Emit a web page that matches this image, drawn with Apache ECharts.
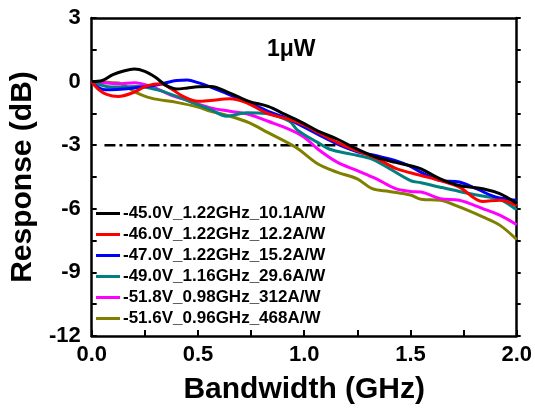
<!DOCTYPE html>
<html>
<head>
<meta charset="utf-8">
<script src="https://cdn.jsdelivr.net/npm/echarts@6/dist/echarts.min.js"></script>
<style>html,body{margin:0;padding:0;background:#fff}#c{width:535px;height:410px}</style>
</head>
<body>
<div id="c"></div>
<script>
const seriesNames = [
  '-45.0V_1.22GHz_10.1A/W',
  '-46.0V_1.22GHz_12.2A/W',
  '-47.0V_1.22GHz_15.2A/W',
  '-49.0V_1.16GHz_29.6A/W',
  '-51.8V_0.98GHz_312A/W',
  '-51.6V_0.96GHz_468A/W'
];
const seriesColors = ['#000000', '#ff0000', '#0000ff', '#008080', '#ff00ff', '#808000'];

// [GHz, dB]
const s45 = [[0,0],[0.05,0.05],[0.1,0.33],[0.15,0.5],[0.2,0.59],[0.25,0.48],[0.3,0.2],[0.35,-0.18],[0.4,-0.35],[0.45,-0.3],[0.5,-0.24],[0.56,-0.23],[0.65,-0.54],[0.74,-0.93],[0.83,-1.17],[0.91,-1.55],[1.0,-1.98],[1.065,-2.33],[1.157,-2.72],[1.25,-3.19],[1.34,-3.57],[1.43,-3.81],[1.5,-3.97],[1.55,-4.12],[1.64,-4.59],[1.73,-4.9],[1.84,-5.05],[1.92,-5.29],[2.0,-5.75]];
const s46 = [[0,0],[0.03,-0.35],[0.07,-0.6],[0.125,-0.7],[0.19,-0.54],[0.26,-0.2],[0.325,-0.1],[0.37,-0.31],[0.43,-0.7],[0.5,-0.93],[0.56,-0.89],[0.65,-0.81],[0.73,-1.0],[0.82,-1.47],[0.93,-1.79],[1.0,-2.05],[1.065,-2.4],[1.157,-2.88],[1.25,-3.27],[1.34,-3.62],[1.43,-4.09],[1.5,-4.3],[1.55,-4.43],[1.64,-4.67],[1.73,-4.98],[1.84,-5.65],[1.92,-5.6],[2.0,-5.85]];
const s47 = [[0,-0.05],[0.065,-0.39],[0.19,-0.31],[0.31,-0.15],[0.4,0.05],[0.45,0.07],[0.5,-0.05],[0.56,-0.26],[0.65,-0.62],[0.74,-1.0],[0.83,-1.4],[0.93,-1.79],[1.0,-2.15],[1.065,-2.49],[1.157,-2.95],[1.25,-3.31],[1.34,-3.5],[1.43,-3.73],[1.5,-4.0],[1.55,-4.28],[1.64,-4.67],[1.73,-4.74],[1.81,-5.05],[1.9,-5.44],[2.0,-5.6]];
const s49 = [[0,0],[0.095,-0.26],[0.22,-0.23],[0.31,-0.39],[0.4,-0.7],[0.465,-0.95],[0.56,-1.32],[0.635,-1.63],[0.73,-1.47],[0.82,-1.5],[0.93,-1.87],[0.97,-2.3],[1.065,-2.88],[1.12,-3.19],[1.22,-3.42],[1.31,-3.62],[1.39,-4.04],[1.5,-4.67],[1.55,-4.77],[1.64,-4.98],[1.73,-5.18],[1.84,-5.4],[1.92,-5.55],[2.0,-6.05]];
const s518 = [[0,0],[0.125,-0.1],[0.2,-0.05],[0.28,-0.23],[0.37,-0.62],[0.465,-0.93],[0.56,-1.24],[0.65,-1.4],[0.74,-1.55],[0.83,-1.87],[0.93,-2.25],[1.0,-2.62],[1.065,-3.19],[1.157,-3.81],[1.25,-4.2],[1.34,-4.59],[1.43,-5.05],[1.5,-5.18],[1.55,-5.21],[1.64,-5.52],[1.73,-5.6],[1.84,-5.99],[1.92,-6.3],[2.0,-6.75]];
const s516 = [[0,0],[0.095,-0.05],[0.14,-0.1],[0.2,-0.47],[0.28,-0.78],[0.4,-0.98],[0.5,-1.2],[0.56,-1.4],[0.65,-1.63],[0.74,-1.94],[0.83,-2.41],[0.96,-3.1],[1.065,-3.89],[1.157,-4.28],[1.25,-4.59],[1.32,-5.05],[1.4,-5.18],[1.5,-5.35],[1.55,-5.55],[1.64,-5.6],[1.73,-5.91],[1.84,-6.38],[1.92,-6.77],[2.0,-7.45]];
const seriesData = [s45, s46, s47, s49, s518, s516];

const refLevel = -3;
const refStart = 0.06;
const xTicks = {min: 0, max: 2, interval: 0.5};
const yTicks = {min: -12, max: 3, interval: 3};
const titleText = '1\u03bcW';

const FONT = '"Liberation Sans", Arial, sans-serif';
const chart = echarts.init(document.getElementById('c'), null, {renderer: 'canvas'});

const series = seriesData.map((d, i) => ({
  name: seriesNames[i],
  type: 'line',
  data: d,
  smooth: 0.35,
  showSymbol: false,
  symbol: 'none',
  lineStyle: {color: seriesColors[i], width: 3},
  itemStyle: {color: seriesColors[i]},
  z: 10 - i
}));
series.push({
  name: 'ref',
  type: 'line',
  data: [[refStart, refLevel], [2, refLevel]],
  showSymbol: false,
  symbol: 'none',
  lineStyle: {color: '#000', width: 2.5, type: [11, 4, 3, 4]},
  z: 1,
  silent: true
});

chart.setOption({
  animation: false,
  backgroundColor: '#fff',
  grid: {left: 84, right: 17, top: 18, bottom: 71, containLabel: false},
  graphic: [{
    type: 'text',
    left: 267, top: 38,
    style: {text: titleText, font: 'bold 23px ' + FONT, fill: '#000'}
  }],
  legend: {
    data: seriesNames,
    orient: 'vertical',
    left: 96, top: 205,
    icon: 'rect',
    itemWidth: 24, itemHeight: 3,
    itemGap: 4,
    textStyle: {fontFamily: FONT, fontWeight: 'bold', fontSize: 17, lineHeight: 17, color: '#000', padding: [0,0,0,-2]},
    padding: 0
  },
  xAxis: [{
    type: 'value', min: xTicks.min, max: xTicks.max, interval: xTicks.interval,
    name: 'Bandwidth (GHz)', nameLocation: 'middle', nameGap: 39,
    nameTextStyle: {fontFamily: FONT, fontWeight: 'bold', fontSize: 30, color: '#000'},
    axisLine: {show: true, onZero: false, lineStyle: {color: '#000', width: 2.5}},
    axisTick: {show: true, inside: true, length: 6, lineStyle: {color: '#000', width: 2}},
    minorTick: {show: true, splitNumber: 2, length: 6, lineStyle: {color: '#000', width: 2}},
    axisLabel: {fontFamily: FONT, fontWeight: 'bold', fontSize: 22, color: '#000', margin: 8,
      formatter: v => v.toFixed(1)},
    splitLine: {show: false}
  }, {
    type: 'value', position: 'top', min: xTicks.min, max: xTicks.max, interval: xTicks.interval,
    axisLine: {show: true, onZero: false, lineStyle: {color: '#000', width: 2.5}},
    axisTick: {show: false}, axisLabel: {show: false}, splitLine: {show: false}
  }],
  yAxis: [{
    type: 'value', min: yTicks.min, max: yTicks.max, interval: yTicks.interval,
    name: 'Response (dB)', nameLocation: 'middle', nameGap: 50,
    nameTextStyle: {fontFamily: FONT, fontWeight: 'bold', fontSize: 30, color: '#000'},
    axisLine: {show: true, onZero: false, lineStyle: {color: '#000', width: 2.5}},
    axisTick: {show: true, inside: true, length: 5, lineStyle: {color: '#000', width: 2}},
    minorTick: {show: true, splitNumber: 2, length: 5, lineStyle: {color: '#000', width: 2}},
    axisLabel: {fontFamily: FONT, fontWeight: 'bold', fontSize: 22, color: '#000', margin: 11},
    splitLine: {show: false}
  }, {
    type: 'value', position: 'right', min: yTicks.min, max: yTicks.max, interval: yTicks.interval / 2,
    axisLine: {show: true, onZero: false, lineStyle: {color: '#000', width: 2.5}},
    axisTick: {show: true, inside: false, length: 4, lineStyle: {color: '#000', width: 2}},
    axisLabel: {show: false}, splitLine: {show: false}
  }],
  series: series
});
</script>
</body>
</html>
